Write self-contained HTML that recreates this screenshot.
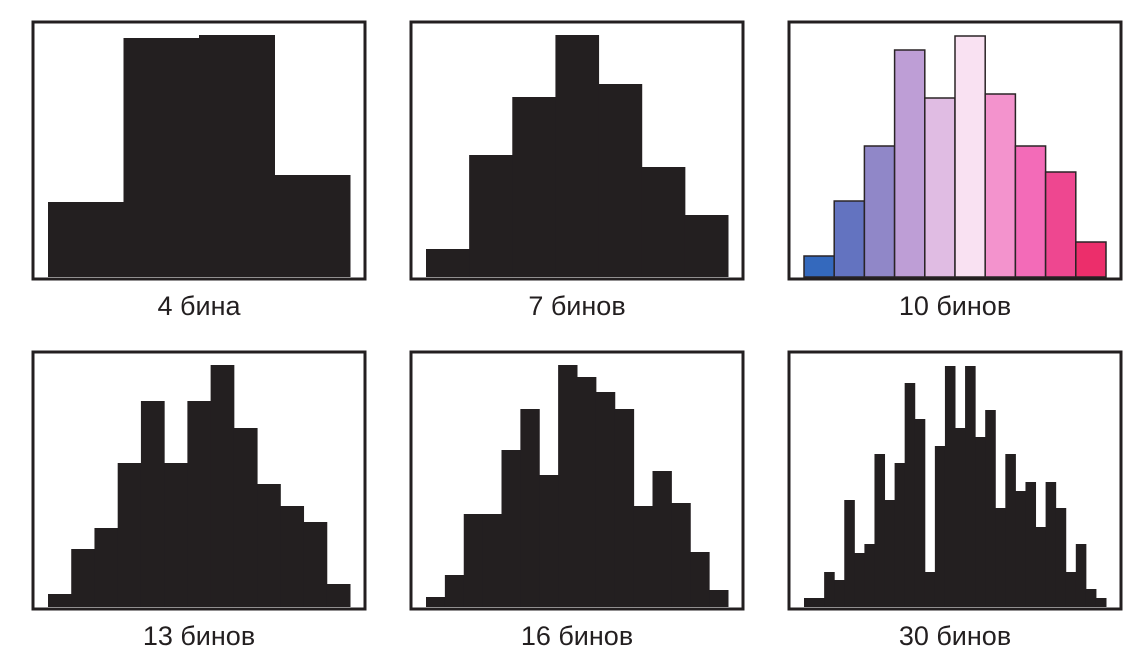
<!DOCTYPE html>
<html><head><meta charset="utf-8"><style>
html,body{margin:0;padding:0;background:#fff;width:1142px;height:670px;overflow:hidden}
svg{display:block}
text{font-family:"Liberation Sans",sans-serif;font-size:27px;fill:#231f20}
</style></head><body>
<svg id="c" width="1142" height="670"></svg>
<script>
const labels=["4 бина","7 бинов","10 бинов","13 бинов","16 бинов","30 бинов"];
const bins4=[75,239,242,102];
const bins7=[28,122,180,242,193,110,62];
const bins10=[21,76,131,227,179,241,183,131,105,35];
const bins13=[13,58,79,144,206,144,206,242,179,123,101,85,23];
const bins16=[10,32,93,93,157,198,132,242,230,215,198,101,136,104,55,17];
const bins30=[9,9,35,27,107,54,63,153,107,144,224,188,35,161,241,179,241,170,197,99,153,116,125,80,125,99,35,63,18,9];
const colors10=["#3469bd","#6373c0","#9087c8","#be9ed6","#e0bce3","#f9e1f2","#f393cd","#f36bb8","#ee4790","#ec2e6b"];
const allBins=[bins4,bins7,bins10,bins13,bins16,bins30];
const NS="http://www.w3.org/2000/svg";
const svg=document.getElementById('c');
const maxV=242;
const colX=[33,411,789], rowY=[22,352], pw=332, ph=257;
function mk(t,a){const e=document.createElementNS(NS,t);for(const k in a)e.setAttribute(k,a[k]);return e;}
allBins.forEach((data,i)=>{
  const px=colX[i%3], py=rowY[Math.floor(i/3)];
  const g=mk('g',{});
  
  
  svg.appendChild(g);
  const x0=px+15, x1=px+pw-15, base=py+ph-2;
  const w=(x1-x0)/data.length;
  const y=v=>base-v/maxV*(ph-15);
  data.forEach((v,j)=>{
    const colored=(i===2);
    const r=mk('rect',{x:x0+j*w,y:y(v),width:colored?w:w+0.5,height:base-y(v),
      fill:colored?colors10[j]:'#231f20',stroke:colored?'#2a2426':'none','stroke-width':colored?1.5:0});
    
    
    g.appendChild(r);
  });
  const f=mk('rect',{x:px,y:py,width:pw,height:ph,fill:'none',stroke:'#231f20','stroke-width':3});
  
  
  g.appendChild(f);
  const t=mk('text',{x:px+pw/2,y:py+ph+36,'text-anchor':'middle'});
  t.textContent=labels[i];
  
  
  g.appendChild(t);
});
</script>
</body></html>
